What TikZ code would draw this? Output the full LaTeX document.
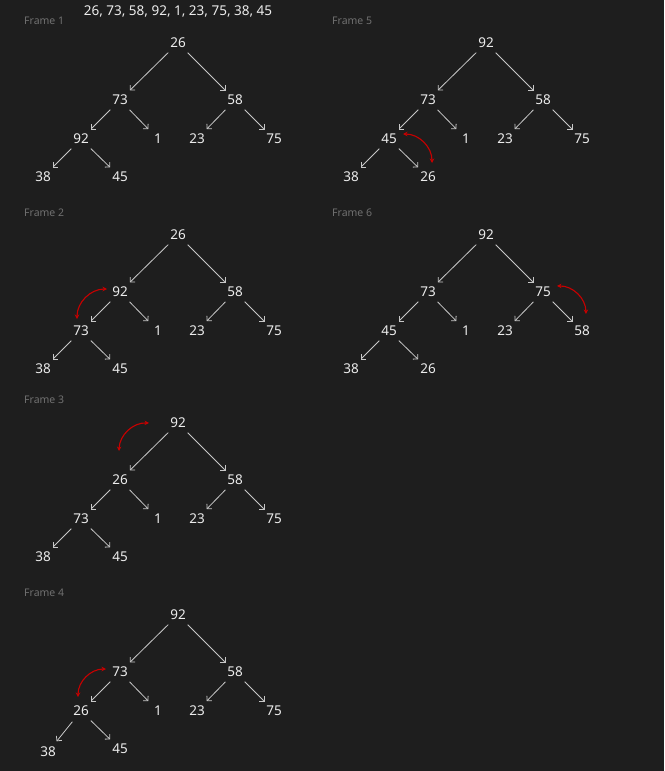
\documentclass[tikz,border=0pt]{standalone}
\usepackage{fontspec}
\setmainfont{Noto Sans}
\usetikzlibrary{arrows.meta}
\definecolor{bgc}{RGB}{30,30,30}
\definecolor{txt}{RGB}{236,236,236}
\definecolor{edgec}{RGB}{200,200,200}
\definecolor{lblc}{RGB}{112,112,112}
\definecolor{swapc}{RGB}{200,0,0}
\tikzset{
  val/.style={circle, minimum size=27pt, inner sep=0pt, text=txt, font=\fontsize{13.5}{16}\selectfont},
  link/.style={draw=edgec, line width=0.8pt, -{Straight Barb[length=3.5pt,width=7pt]}},
  swaparrow/.style={draw=swapc, line width=1.1pt, {Stealth[length=4.5pt,width=4.5pt]}-{Stealth[length=4.5pt,width=4.5pt]}},
  framelbl/.style={anchor=west, inner sep=0pt, text=lblc, font=\fontsize{10.5}{12}\selectfont},
  titletxt/.style={inner sep=0pt, text=txt, font=\fontsize{13.5}{16}\selectfont}
}
\def\pfx{a}
\def\pseven{(43,-177)}
\newcommand\dn[1]{\raisebox{-1pt}{#1}}
\newcommand\drawheap[9]{%
  \node[val] (\pfx0) at (178,-43) {\dn{#1}};
  \node[val] (\pfx1) at (120,-100) {\dn{#2}};
  \node[val] (\pfx2) at (235,-100) {\dn{#3}};
  \node[val] (\pfx3) at (81,-139) {\dn{#4}};
  \node[val] (\pfx4) at (158,-139) {\dn{#5}};
  \node[val] (\pfx5) at (197,-139) {\dn{#6}};
  \node[val] (\pfx6) at (274,-139) {\dn{#7}};
  \node[val] (\pfx7) at \pseven {\dn{#8}};
  \node[val] (\pfx8) at (120,-177) {\dn{#9}};
  \draw[link] (\pfx0) -- (\pfx1);
  \draw[link] (\pfx0) -- (\pfx2);
  \draw[link] (\pfx1) -- (\pfx3);
  \draw[link] (\pfx1) -- (\pfx4);
  \draw[link] (\pfx2) -- (\pfx5);
  \draw[link] (\pfx2) -- (\pfx6);
  \draw[link] (\pfx3) -- (\pfx7);
  \draw[link] (\pfx3) -- (\pfx8);
}
\begin{document}
\begin{tikzpicture}[x=1pt,y=1pt]
\fill[bgc] (0,0) rectangle (664,-771);
\useasboundingbox (0,0) rectangle (664,-771);
\node[titletxt] (title) at (178,-11) {26, 73, 58, 92, 1, 23, 75, 38, 45};
% Frame 1
\node[framelbl] (lbl1) at (24,-21) {Frame 1};
\def\pfx{a}
\drawheap{26}{73}{58}{92}{1}{23}{75}{38}{45}
% Frame 2
\begin{scope}[shift={(0,-192)}]
\node[framelbl] (lbl2) at (24,-21) {Frame 2};
\def\pfx{b}
\drawheap{26}{92}{58}{73}{1}{23}{75}{38}{45}
\coordinate (r2a) at (107,-97);
\coordinate (r2b) at (77,-127);
\draw[swaparrow] (r2a) to[bend right=45] (r2b);
\end{scope}
% Frame 3
\begin{scope}[shift={(0,-380)}]
\node[framelbl] (lbl3) at (24,-20) {Frame 3};
\def\pfx{c}
\drawheap{92}{26}{58}{73}{1}{23}{75}{38}{45}
\coordinate (r3a) at (149,-43);
\coordinate (r3b) at (119,-71);
\draw[swaparrow] (r3a) to[bend right=45] (r3b);
\end{scope}
% Frame 4
\begin{scope}[shift={(0,-572)}]
\node[framelbl] (lbl4) at (24,-21) {Frame 4};
\def\pfx{d}
\def\pseven{(48,-180)}
\drawheap{92}{73}{58}{26}{1}{23}{75}{38}{45}
\def\pseven{(43,-177)}
\coordinate (r4a) at (106,-97);
\coordinate (r4b) at (78,-125);
\draw[swaparrow] (r4a) to[bend right=45] (r4b);
\end{scope}
% Frame 5
\begin{scope}[shift={(308,0)}]
\node[framelbl] (lbl5) at (24,-21) {Frame 5};
\def\pfx{e}
\drawheap{92}{73}{58}{45}{1}{23}{75}{38}{26}
\coordinate (r5a) at (95,-134);
\coordinate (r5b) at (124,-163);
\draw[swaparrow] (r5a) to[bend left=45] (r5b);
\end{scope}
% Frame 6
\begin{scope}[shift={(308,-192)}]
\node[framelbl] (lbl6) at (24,-21) {Frame 6};
\def\pfx{f}
\drawheap{92}{73}{75}{45}{1}{23}{58}{38}{26}
\coordinate (r6a) at (249,-94);
\coordinate (r6b) at (278,-122);
\draw[swaparrow] (r6a) to[bend left=45] (r6b);
\end{scope}
\end{tikzpicture}
\end{document}
